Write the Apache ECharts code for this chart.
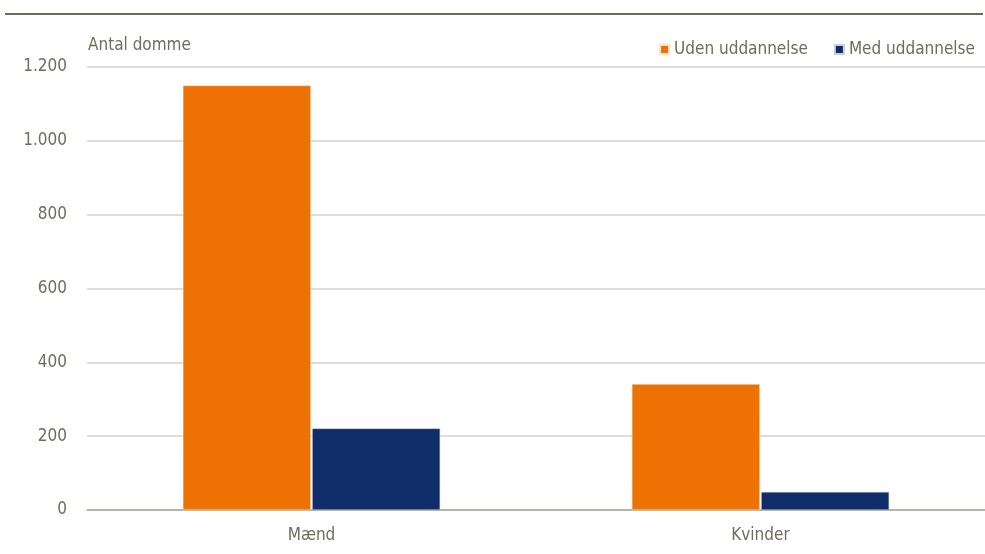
<!DOCTYPE html>
<html><head><meta charset="utf-8">
<script src="https://cdn.jsdelivr.net/npm/echarts@6/dist/echarts.min.js"></script>
<style>html,body{margin:0;padding:0;background:#fff}#c{width:985px;height:554px}</style>
</head><body><div id="c"></div>
<script>
const categories = ['Mænd', 'Kvinder'];
const udenUddannelse = [1150, 341];
const medUddannelse = [221, 49];
const yTicks = [0, 200, 400, 600, 800, 1000, 1200];
const seriesNames = ['Uden uddannelse', 'Med uddannelse'];

const FONT = "'DejaVu Sans Condensed', 'Liberation Sans', sans-serif";
const TXT = '#6e6c5c';
const chart = echarts.init(document.getElementById('c'));
chart.setOption({
  animation: false,
  graphic: [
    {type: 'line', shape: {x1: 5, y1: 14, x2: 983, y2: 14}, style: {stroke: '#6e6a58', lineWidth: 2}},
    {type: 'text', left: 88, top: 37, style: {text: 'Antal domme', fill: TXT, font: "17px " + FONT}}
  ],
  legend: {
    top: 36, right: 5, itemWidth: 9, itemHeight: 9, itemGap: 26,
    icon: 'rect',
    textStyle: {color: TXT, fontSize: 17, fontFamily: FONT, padding: [0,0,0,0]},
    data: seriesNames
  },
  grid: {left: 87, right: 0, top: 67, bottom: 44, containLabel: false},
  xAxis: {
    type: 'category', data: categories,
    axisLine: {lineStyle: {color: '#a9a895', width: 1.5}},
    axisTick: {show: false},
    axisLabel: {color: TXT, fontSize: 17, fontFamily: FONT, margin: 17}
  },
  yAxis: {
    type: 'value', min: yTicks[0], max: yTicks[yTicks.length-1], interval: 200,
    axisLine: {show: false}, axisTick: {show: false},
    splitLine: {lineStyle: {color: '#d3d2cb', width: 1.5}},
    axisLabel: {color: TXT, fontSize: 17, fontFamily: FONT, margin: 20,
      formatter: v => v.toString().replace(/\B(?=(\d{3})+(?!\d))/g, '.')}
  },
  series: [
    {name: seriesNames[0], type: 'bar', data: udenUddannelse, barWidth: 128, barGap: '1%',
     itemStyle: {color: '#ee7203', borderColor: '#fbe3cc', borderWidth: 0.5}},
    {name: seriesNames[1], type: 'bar', data: medUddannelse, barWidth: 128,
     itemStyle: {color: '#112d69', borderColor: '#c8cfe0', borderWidth: 0.5}}
  ]
});
</script></body></html>
